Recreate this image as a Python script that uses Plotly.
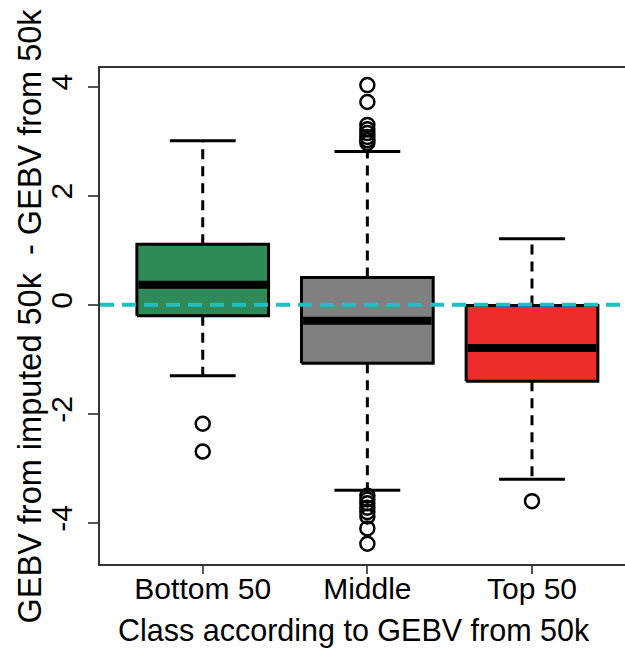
import plotly.graph_objects as go

categories = ["Bottom 50", "Middle", "Top 50"]
positions = [1, 2, 3]
q1 = [-0.2, -1.07, -1.40]
median = [0.37, -0.29, -0.79]
q3 = [1.11, 0.50, -0.01]
whisker_low = [-1.30, -3.40, -3.20]
whisker_high = [3.01, 2.81, 1.21]
outliers = [
    [-2.18, -2.69],
    [4.03, 3.72, 3.30, 3.22, 3.15, 3.08, 3.02, 2.97,
     -3.50, -3.57, -3.64, -3.72, -3.80, -3.88, -4.10, -4.38],
    [-3.60],
]
fill_colors = ["#2E8B57", "#808080", "#EE2C2C"]
y_ticks = [-4, -2, 0, 2, 4]
ref_line = 0

box_half = 0.4
cap_half = 0.2

fig = go.Figure()

for i, c in enumerate(positions):
    # box
    fig.add_trace(go.Scatter(
        x=[c - box_half, c + box_half, c + box_half, c - box_half, c - box_half],
        y=[q1[i], q1[i], q3[i], q3[i], q1[i]],
        mode="lines", fill="toself", fillcolor=fill_colors[i],
        line=dict(color="black", width=3), hoverinfo="skip", showlegend=False))
    # whiskers (dashed)
    fig.add_trace(go.Scatter(
        x=[c, c], y=[q3[i], whisker_high[i]], mode="lines",
        line=dict(color="black", width=3, dash="10px,7px"), showlegend=False))
    fig.add_trace(go.Scatter(
        x=[c, c], y=[q1[i], whisker_low[i]], mode="lines",
        line=dict(color="black", width=3, dash="10px,7px"), showlegend=False))
    # caps
    for w in (whisker_high[i], whisker_low[i]):
        fig.add_trace(go.Scatter(
            x=[c - cap_half, c + cap_half], y=[w, w], mode="lines",
            line=dict(color="black", width=3), showlegend=False))
    # median
    fig.add_trace(go.Scatter(
        x=[c - box_half + 0.01, c + box_half - 0.01], y=[median[i], median[i]], mode="lines",
        line=dict(color="black", width=8), showlegend=False))
    # outliers
    fig.add_trace(go.Scatter(
        x=[c] * len(outliers[i]), y=outliers[i], mode="markers",
        marker=dict(symbol="circle-open", size=14, color="black", line=dict(width=2.5)),
        showlegend=False))

x_lo, x_hi = 0.376, 3.565
fig.add_trace(go.Scatter(
    x=[x_lo, x_hi], y=[ref_line, ref_line], mode="lines",
    line=dict(color="#1FBFC4", width=4, dash="14px,8px"), showlegend=False))

fig.update_layout(
    width=625, height=648,
    margin=dict(l=100, r=0, t=68, b=84),
    paper_bgcolor="white", plot_bgcolor="white",
    font=dict(family="Liberation Sans, Arial, sans-serif", size=30, color="black"),
    xaxis=dict(
        range=[x_lo, x_hi], tickvals=positions, ticktext=categories,
        showline=True, linecolor="#333333", linewidth=2, mirror=True,
        ticks="outside", ticklen=8, tickwidth=1.5, tickcolor="#555555",
        showgrid=False, zeroline=False, tickfont=dict(size=30),
        ticklabelstandoff=-11),
    yaxis=dict(
        range=[-4.752, 4.343], tickvals=y_ticks, ticktext=[str(v) for v in y_ticks],
        showline=True, linecolor="#333333", linewidth=2,
        ticks="outside", ticklen=10, tickwidth=1.5, tickcolor="#555555",
        showgrid=False, zeroline=False, tickangle=-90, tickfont=dict(size=30),
        ticklabelstandoff=4),
    annotations=[
        dict(text="Class according to GEBV from 50k", xref="paper", yref="paper",
             x=0.484, y=0, yshift=-66, xanchor="center", yanchor="middle",
             showarrow=False, font=dict(size=30.5)),
        dict(text="GEBV from imputed 50k  - GEBV from 50k", xref="paper", yref="paper",
             x=0, xshift=-70, y=0.499, xanchor="center", yanchor="middle",
             textangle=-90, showarrow=False, font=dict(size=32.5)),
    ],
)

fig.write_html("out.html", config={"displayModeBar": False},
               post_script="document.body.style.margin='0';document.body.style.overflow='hidden';")
